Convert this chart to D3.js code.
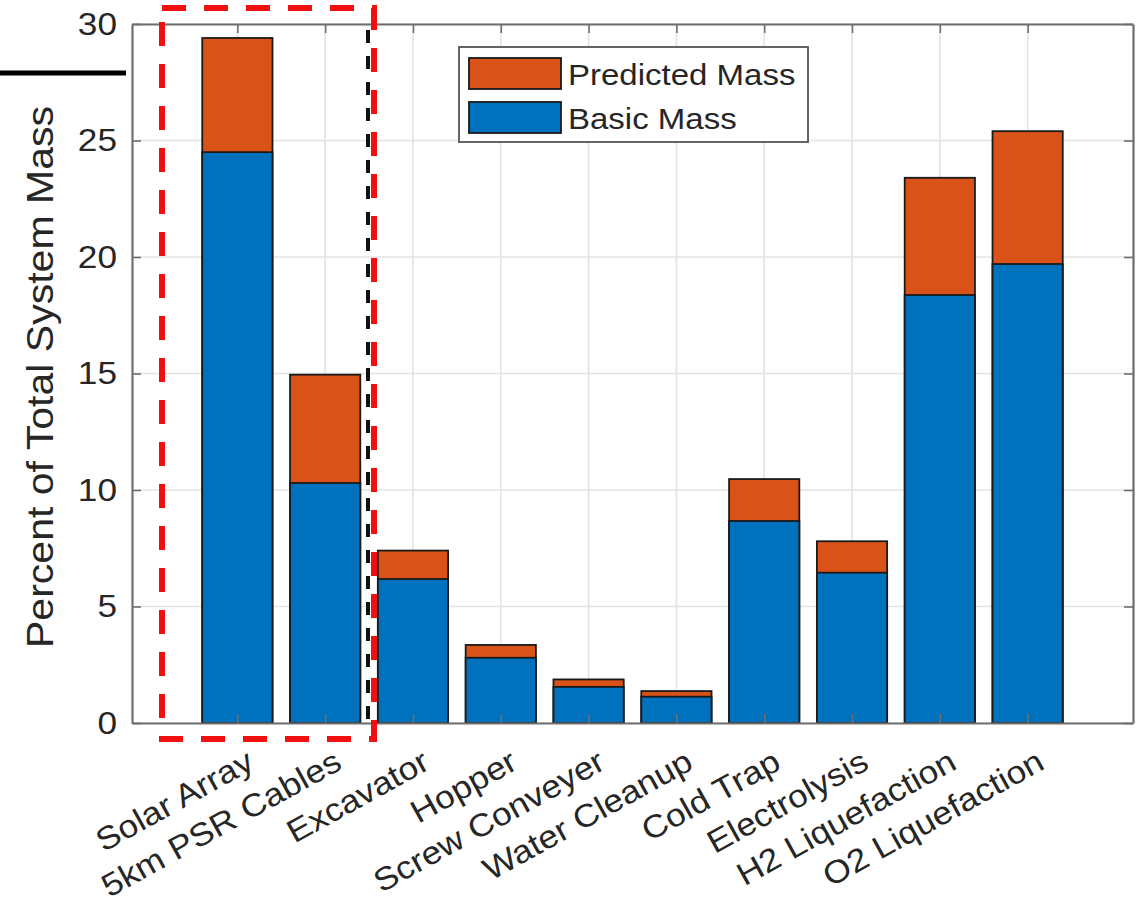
<!DOCTYPE html>
<html>
<head>
<meta charset="utf-8">
<script src="https://cdn.jsdelivr.net/npm/d3@7"></script>
<style>
  html, body { margin: 0; padding: 0; background: #fff; }
  svg { display: block; }
  text { font-family: "Liberation Sans", Arial, Helvetica, sans-serif; fill: #262626; }
</style>
</head>
<body>
<svg id="chart" width="1143" height="912"></svg>
<script>
// ---- data ----
const categories = ["Solar Array", "5km PSR Cables", "Excavator", "Hopper", "Screw Conveyer",
                    "Water Cleanup", "Cold Trap", "Electrolysis", "H2 Liquefaction", "O2 Liquefaction"];
const basicMass = [24.5, 10.3, 6.18, 2.8, 1.55, 1.13, 8.67, 6.45, 18.37, 19.7];
const predictedMass = [29.4, 14.95, 7.4, 3.35, 1.87, 1.37, 10.47, 7.8, 23.4, 25.4];
const yTicks = [0, 5, 10, 15, 20, 25, 30];
const seriesNames = ["Predicted Mass", "Basic Mass"];
const yLabel = "Percent of Total System Mass";

// ---- layout ----
const pLeft = 132, pRight = 1133, pTop = 24, pBottom = 723;
const blue = "#0072BD", orange = "#D95319";
const axisColor = "#6e6e6e", gridColor = "#e3e3e3";

const svg = d3.select("#chart");
const idx = categories.map((d, i) => i + 1);
const x = d3.scaleLinear().domain([-0.2, 11.2]).range([pLeft, pRight]);
const y = d3.scaleLinear().domain([0, 30]).range([pBottom, pTop]);
const barW = x(0.8) - x(0);

function widen(sel, f) {
  sel.each(function () {
    const L = this.getComputedTextLength();
    this.setAttribute("textLength", L * f);
    this.setAttribute("lengthAdjust", "spacingAndGlyphs");
  });
}

// grid
const grid = svg.append("g");
grid.selectAll("line.v").data(idx).join("line")
  .attr("x1", d => x(d)).attr("x2", d => x(d))
  .attr("y1", pTop).attr("y2", pBottom)
  .attr("stroke", gridColor).attr("stroke-width", 1.6);
grid.selectAll("line.h").data(yTicks).join("line")
  .attr("x1", pLeft).attr("x2", pRight)
  .attr("y1", d => y(d)).attr("y2", d => y(d))
  .attr("stroke", gridColor).attr("stroke-width", 1.6);

// bars
const bars = svg.append("g");
bars.selectAll("rect.pred").data(predictedMass).join("rect")
  .attr("x", (d, i) => x(i + 1) - barW / 2).attr("width", barW)
  .attr("y", d => y(d)).attr("height", d => y(0) - y(d))
  .attr("fill", orange).attr("stroke", "#1a1a1a").attr("stroke-width", 1.8);
bars.selectAll("rect.basic").data(basicMass).join("rect")
  .attr("x", (d, i) => x(i + 1) - barW / 2).attr("width", barW)
  .attr("y", d => y(d)).attr("height", d => y(0) - y(d))
  .attr("fill", blue).attr("stroke", "#1a1a1a").attr("stroke-width", 1.8);

// axes
const axB = svg.append("g").attr("transform", `translate(0,${pBottom})`)
  .call(d3.axisBottom(x).tickValues(idx).tickFormat(d => categories[d - 1]).tickSizeInner(-9).tickSizeOuter(0));
const axT = svg.append("g").attr("transform", `translate(0,${pTop})`)
  .call(d3.axisTop(x).tickValues(idx).tickFormat("").tickSizeInner(-9).tickSizeOuter(0));
const axL = svg.append("g").attr("transform", `translate(${pLeft},0)`)
  .call(d3.axisLeft(y).tickValues(yTicks).tickSizeInner(-9).tickSizeOuter(0).tickPadding(15));
const axR = svg.append("g").attr("transform", `translate(${pRight},0)`)
  .call(d3.axisRight(y).tickValues(yTicks).tickFormat("").tickSizeInner(-9).tickSizeOuter(0));
[axB, axT, axL, axR].forEach(a => {
  a.select(".domain").attr("stroke", axisColor).attr("stroke-width", 2.2);
  a.selectAll(".tick line").attr("stroke", axisColor).attr("stroke-width", 1.6);
});
axL.selectAll(".tick text").attr("font-size", 32).attr("fill", "#262626")
  .attr("font-family", "Liberation Sans, Arial, sans-serif").call(widen, 1.1);
axB.selectAll(".tick text")
  .attr("font-size", 32).attr("fill", "#262626")
  .attr("font-family", "Liberation Sans, Arial, sans-serif")
  .attr("text-anchor", "end").attr("y", null).attr("dy", null)
  .attr("transform", "translate(18,45) rotate(-29)")
  .call(widen, 1.1);

// y label
svg.append("text")
  .attr("transform", `translate(53,377) rotate(-90)`)
  .attr("text-anchor", "middle").attr("font-size", 36)
  .text(yLabel).call(widen, 1.14);

// legend
const lg = svg.append("g");
lg.append("rect").attr("x", 459).attr("y", 47).attr("width", 349).attr("height", 95)
  .attr("fill", "#fff").attr("stroke", "#555").attr("stroke-width", 1.8);
const legColors = [orange, blue];
seriesNames.forEach((name, i) => {
  lg.append("rect").attr("x", 469).attr("y", 58 + i * 44).attr("width", 92).attr("height", 31)
    .attr("fill", legColors[i]).attr("stroke", "#1a1a1a").attr("stroke-width", 1.8);
  lg.append("text").attr("x", 568).attr("y", 85 + i * 44).attr("font-size", 30)
    .text(name).call(widen, 1.1);
});

// annotations
svg.append("line").attr("x1", 0).attr("x2", 126).attr("y1", 73).attr("y2", 73)
  .attr("stroke", "#000").attr("stroke-width", 5);
svg.append("line").attr("x1", 368).attr("x2", 368).attr("y1", 30).attr("y2", pBottom)
  .attr("stroke", "#111").attr("stroke-width", 4).attr("stroke-dasharray", "13,13");
svg.append("rect").attr("x", 162).attr("y", 8).attr("width", 374 - 162).attr("height", 739 - 8)
  .attr("fill", "none").attr("stroke", "#f01010").attr("stroke-width", 6)
  .attr("stroke-dasharray", "24,18");
</script>
</body>
</html>
